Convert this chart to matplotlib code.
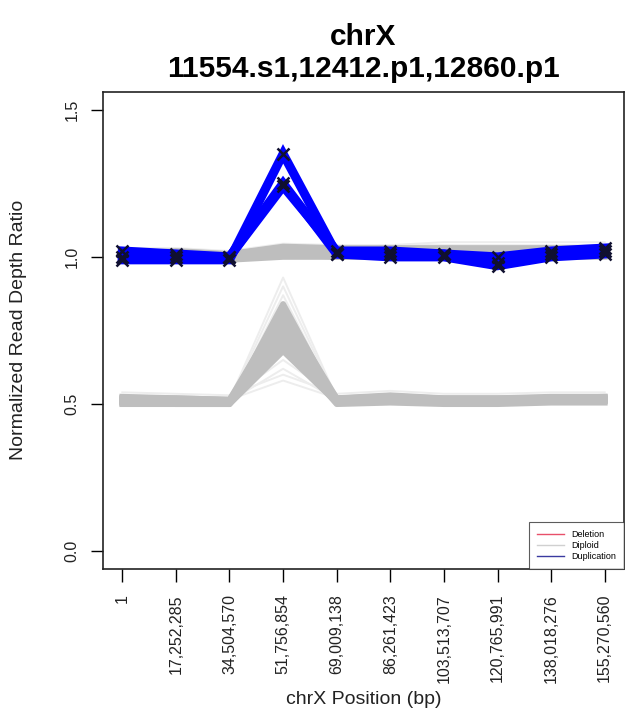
import matplotlib
matplotlib.use("Agg")
import matplotlib.pyplot as plt
from matplotlib.lines import Line2D

plt.rcParams['font.family'] = ['Liberation Sans', 'DejaVu Sans']

# ---- data ----
x_pos = [1, 17252285, 34504570, 51756854, 69009138, 86261423,
         103513707, 120765991, 138018276, 155270560]
x_labels = ["1", "17,252,285", "34,504,570", "51,756,854", "69,009,138",
            "86,261,423", "103,513,707", "120,765,991", "138,018,276", "155,270,560"]

# diploid reference samples near ratio 1.0
diploid_upper = [
    [1.00, 1.00, 1.00, 1.01, 1.01, 1.01, 1.01, 1.00, 1.01, 1.01],
    [1.01, 1.01, 1.00, 1.02, 1.02, 1.02, 1.02, 1.01, 1.02, 1.02],
    [1.02, 1.01, 1.01, 1.03, 1.02, 1.03, 1.02, 1.02, 1.03, 1.03],
    [0.99, 0.99, 0.99, 1.00, 1.00, 1.00, 1.00, 0.99, 1.00, 1.00],
    [1.01, 1.02, 1.01, 1.035, 1.03, 1.03, 1.03, 1.03, 1.03, 1.03],
    [1.00, 1.00, 0.99, 1.02, 1.01, 1.01, 1.00, 1.00, 1.01, 1.02],
    [0.99, 1.00, 1.00, 1.01, 1.00, 1.00, 1.00, 0.99, 1.00, 1.01],
]
diploid_upper_faint = [
    [1.02, 1.02, 1.02, 1.04, 1.03, 1.04, 1.04, 1.04, 1.04, 1.04],
    [1.03, 1.03, 1.02, 1.045, 1.04, 1.04, 1.05, 1.05, 1.05, 1.05],
]

# diploid reference samples near ratio 0.5
diploid_lower = [
    [0.505, 0.500, 0.500, 0.68, 0.505, 0.510, 0.505, 0.505, 0.510, 0.510],
    [0.510, 0.505, 0.505, 0.70, 0.510, 0.515, 0.510, 0.510, 0.510, 0.515],
    [0.515, 0.510, 0.505, 0.72, 0.515, 0.520, 0.515, 0.510, 0.515, 0.515],
    [0.520, 0.515, 0.510, 0.74, 0.515, 0.520, 0.515, 0.515, 0.520, 0.520],
    [0.510, 0.510, 0.505, 0.76, 0.510, 0.515, 0.510, 0.510, 0.515, 0.515],
    [0.525, 0.520, 0.515, 0.78, 0.520, 0.525, 0.520, 0.520, 0.520, 0.525],
    [0.515, 0.515, 0.510, 0.80, 0.515, 0.520, 0.515, 0.515, 0.515, 0.520],
    [0.520, 0.520, 0.515, 0.82, 0.520, 0.530, 0.520, 0.520, 0.525, 0.525],
    [0.505, 0.505, 0.500, 0.84, 0.505, 0.510, 0.505, 0.505, 0.510, 0.510],
    [0.500, 0.500, 0.500, 0.71, 0.500, 0.505, 0.500, 0.500, 0.505, 0.505],
]
diploid_lower_faint = [
    [0.520, 0.515, 0.515, 0.58, 0.520, 0.525, 0.520, 0.515, 0.520, 0.520],
    [0.515, 0.510, 0.510, 0.62, 0.515, 0.520, 0.515, 0.510, 0.515, 0.515],
    [0.530, 0.525, 0.520, 0.65, 0.525, 0.535, 0.525, 0.525, 0.530, 0.530],
    [0.510, 0.510, 0.505, 0.87, 0.510, 0.515, 0.510, 0.510, 0.510, 0.515],
    [0.520, 0.515, 0.510, 0.90, 0.515, 0.520, 0.515, 0.515, 0.520, 0.520],
    [0.525, 0.520, 0.515, 0.93, 0.520, 0.525, 0.520, 0.520, 0.525, 0.525],
    [0.540, 0.535, 0.530, 0.60, 0.535, 0.545, 0.535, 0.535, 0.540, 0.540],
]

# duplication samples (11554.s1, 12412.p1, 12860.p1)
dup_samples = [
    [0.99, 0.99, 0.99, 1.35, 1.01, 1.00, 1.00, 0.97, 1.00, 1.01],
    [1.00, 1.00, 1.00, 1.25, 1.01, 1.01, 1.01, 0.98, 1.01, 1.02],
    [1.02, 1.01, 1.00, 1.24, 1.02, 1.02, 1.01, 1.00, 1.02, 1.03],
]

title_lines = ["chrX", "11554.s1,12412.p1,12860.p1"]
y_ticks = [0.0, 0.5, 1.0, 1.5]
y_tick_labels = ["0.0", "0.5", "1.0", "1.5"]
legend_labels = ["Deletion", "Diploid", "Duplication"]

# ---- figure ----
W, H = 625, 715
fig = plt.figure(figsize=(W / 100, H / 100), dpi=100)
ax = fig.add_axes([103 / W, 1 - 569 / H, (624 - 103) / W, (569 - 92) / H])

for ys in diploid_upper_faint + diploid_lower_faint:
    ax.plot(x_pos, ys, color='#ededed', lw=1.4, solid_joinstyle='round', zorder=1)
for ys in diploid_upper + diploid_lower:
    ax.plot(x_pos, ys, color='#bebebe', lw=4.2, solid_joinstyle='round', zorder=2)
for ys in dup_samples:
    ax.plot(x_pos, ys, color='#0000ff', lw=6.5, solid_joinstyle='miter', zorder=3)
for ys in dup_samples:
    ax.plot(x_pos, ys, linestyle='none', marker='x', color='#101030',
            markersize=9, markeredgewidth=1.8, zorder=4)

xr = x_pos[-1] - x_pos[0]
ax.set_xlim(x_pos[0] - 0.04 * xr, x_pos[-1] + 0.04 * xr)
ax.set_ylim(-0.06, 1.56)

ax.set_xticks(x_pos)
ax.set_xticklabels(x_labels, rotation=90, fontsize=11.5, va='top')
ax.set_yticks(y_ticks)
ax.set_yticklabels(y_tick_labels, rotation=90, fontsize=11.5, va='center')
ax.tick_params(axis='both', length=9, width=1, color='black', pad=9, labelcolor='#222222')
ax.tick_params(axis='y', pad=8)
for s in ax.spines.values():
    s.set_linewidth(1.2)
    s.set_color('#222222')

fig.text(19 / W, 1 - 330 / H, "Normalized Read Depth Ratio", rotation=90,
         ha='center', va='center', fontsize=14, color='#222222')
fig.text(363.5 / W, 1 - 700 / H, "chrX Position (bp)", ha='center', va='center',
         fontsize=14, color='#222222')

fig.text(363.5 / W, 1 - 45 / H, title_lines[0], ha='center', va='baseline',
         fontsize=21.5, fontweight='bold')
fig.text(363.5 / W, 1 - 77 / H, title_lines[1], ha='center', va='baseline',
         fontsize=21.5, fontweight='bold')

handles = [Line2D([], [], color='#e8506a', lw=1),
           Line2D([], [], color='#d0d0d0', lw=1),
           Line2D([], [], color='#3a3aa0', lw=1)]
leg = ax.legend(handles, legend_labels, loc='lower right', fontsize=6.5,
                frameon=True, fancybox=False, edgecolor='#333333',
                borderaxespad=0.0, handlelength=3.0, labelspacing=0.2,
                borderpad=0.9, handletextpad=0.8)
leg.get_frame().set_linewidth(0.8)

fig.savefig("out.png", dpi=100)
